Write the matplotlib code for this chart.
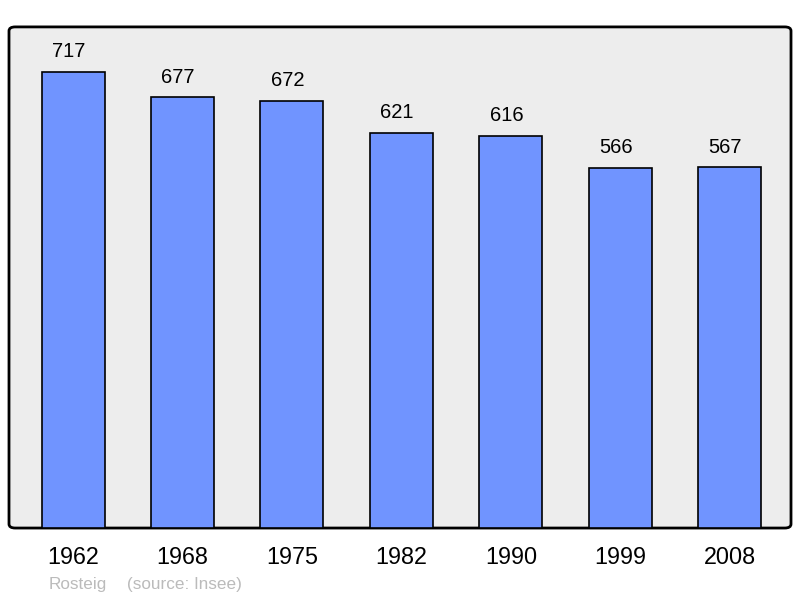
import matplotlib
matplotlib.use("Agg")
import matplotlib.pyplot as plt
from matplotlib.patches import FancyBboxPatch

years = ["1962", "1968", "1975", "1982", "1990", "1999", "2008"]
population = [717, 677, 672, 621, 616, 566, 567]

plt.rcParams['font.family'] = ['Liberation Sans', 'DejaVu Sans']

fig = plt.figure(figsize=(8, 5.98), dpi=100)
ax = fig.add_axes([0.01125, 0.117, 0.9775, 0.838])
ax.set_facecolor('none')

# rounded grey frame behind the bars
frame = FancyBboxPatch((0, 0), 1, 1, boxstyle="round,pad=0,rounding_size=0.008",
                       transform=ax.transAxes, facecolor='#ededed',
                       edgecolor='black', linewidth=2, zorder=0, clip_on=False)
ax.add_patch(frame)

x = range(len(years))
ax.bar(x, population, width=0.576, color='#7094ff', edgecolor='black',
       linewidth=1.2, zorder=2)

for i, v in enumerate(population):
    ax.text(i - 0.04, v + 17, str(v), ha='center', va='bottom', fontsize=14.5)

ax.set_xlim(-0.585, 6.56)
ax.set_ylim(0, 788)
ax.set_xticks(list(x))
ax.set_xticklabels(years, fontsize=16.8)
ax.tick_params(axis='x', length=0, pad=13)
ax.set_yticks([])
for s in ax.spines.values():
    s.set_visible(False)

fig.text(49 / 800, 1 - 585 / 598, "Rosteig", color='#bbbbbb', fontsize=12.3, va='center')
fig.text(127 / 800, 1 - 585 / 598, "(source: Insee)", color='#bbbbbb', fontsize=12.3, va='center')

fig.savefig("out.png", dpi=100)
